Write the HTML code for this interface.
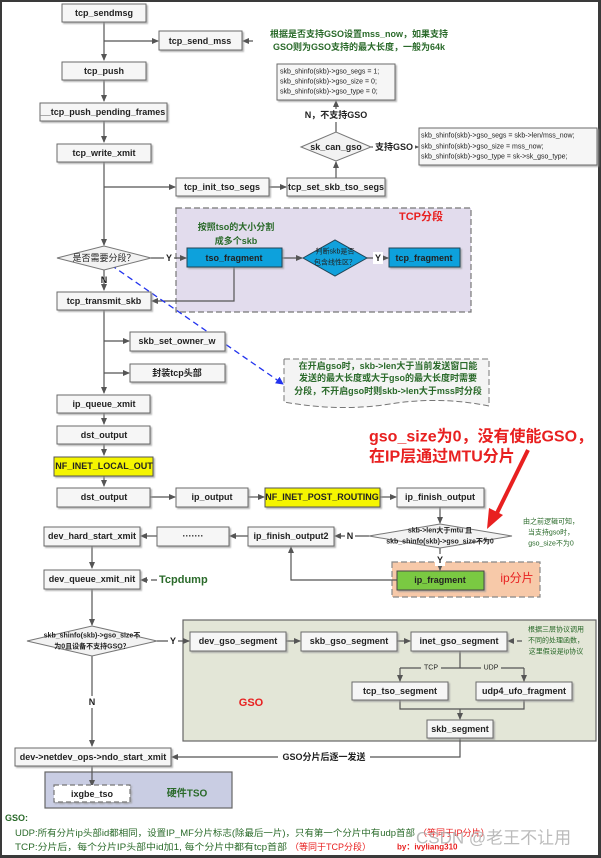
<!DOCTYPE html>
<html><head><meta charset="utf-8"><style>
html,body{margin:0;padding:0;background:#3a3a3a;}
svg{display:block;}
text{font-family:"Liberation Sans","Noto Sans CJK SC",sans-serif;}
.b{fill:#f6f6f6;stroke:#6b6b6b;stroke-width:1;}
.t{font-size:9px;font-weight:bold;fill:#222;text-anchor:middle;dominant-baseline:central;}
.s{font-size:7px;fill:#222;dominant-baseline:central;}
.g{font-size:9px;fill:#2a6a2a;font-weight:bold;dominant-baseline:central;}
.l{stroke:#555;stroke-width:1.2;fill:none;}
.lbl{font-size:9px;font-weight:bold;fill:#222;text-anchor:middle;dominant-baseline:central;}
</style></head><body>
<svg width="601" height="858" viewBox="0 0 601 858" xmlns="http://www.w3.org/2000/svg">
<defs>
<marker id="a" markerWidth="7" markerHeight="7" refX="6" refY="3.5" orient="auto" markerUnits="userSpaceOnUse"><path d="M0,0.5 L7,3.5 L0,6.5z" fill="#555"/></marker>
<marker id="ab" markerWidth="8" markerHeight="8" refX="7" refY="4" orient="auto" markerUnits="userSpaceOnUse"><path d="M0,0 L8,4 L0,8z" fill="#2233ee"/></marker>
<filter id="sh" x="-10%" y="-10%" width="130%" height="150%"><feDropShadow dx="1.5" dy="1.5" stdDeviation="0.8" flood-color="#999" flood-opacity="0.7"/></filter>
</defs>
<rect x="2" y="2" width="596" height="853" fill="#fff"/>

<rect x="176" y="208" width="295" height="104" fill="#e2dced" stroke="#777" stroke-dasharray="6,3" stroke-width="1.2"/>
<text x="421" y="217" font-size="11" font-weight="bold" fill="#e82020" text-anchor="middle" dominant-baseline="central">TCP分段</text>
<rect x="392" y="562" width="148" height="35" fill="#f7c9a9" stroke="#888" stroke-dasharray="6,3" stroke-width="1.2"/>
<text x="517" y="578" font-size="12" fill="#e82020" text-anchor="middle" dominant-baseline="central">ip分片</text>
<rect x="183" y="620" width="413" height="121" fill="#e3e6d7" stroke="#666" stroke-width="1.2"/>
<text x="251" y="703" font-size="11" font-weight="bold" fill="#e82020" text-anchor="middle" dominant-baseline="central">GSO</text>
<rect x="45" y="772" width="187" height="36" fill="#c9cde3" stroke="#666" stroke-width="1.2"/>
<text x="187" y="794" font-size="10" font-weight="bold" fill="#2a6a2a" text-anchor="middle" dominant-baseline="central">硬件TSO</text>

<path class="l" d="M104,22 V60" marker-end="url(#a)"/>
<path class="l" d="M104,41 H158" marker-end="url(#a)"/>
<path class="l" d="M104,80 V101" marker-end="url(#a)"/>
<path class="l" d="M104,121 V142" marker-end="url(#a)"/>
<path class="l" d="M104,162 V245" marker-end="url(#a)"/>
<path class="l" d="M104,187 H175" marker-end="url(#a)"/>
<path class="l" d="M269,187 H286" marker-end="url(#a)"/>
<path class="l" d="M336,178 V162" marker-end="url(#a)"/>
<path class="l" d="M336,132 V101" marker-end="url(#a)"/>
<path class="l" d="M371,147 H418" marker-end="url(#a)"/>
<path class="l" d="M151,258 H186" marker-end="url(#a)"/>
<path class="l" d="M282,258 H302" marker-end="url(#a)"/>
<path class="l" d="M367,258 H388" marker-end="url(#a)"/>
<path class="l" d="M104,270 V290" marker-end="url(#a)"/>
<path class="l" d="M234,267 V301 H152" marker-end="url(#a)"/>
<path class="l" d="M104,310 V393" marker-end="url(#a)"/>
<path class="l" d="M104,341 H129" marker-end="url(#a)"/>
<path class="l" d="M104,373 H129" marker-end="url(#a)"/>
<path class="l" d="M104,413 V424" marker-end="url(#a)"/>
<path class="l" d="M104,444 V455" marker-end="url(#a)"/>
<path class="l" d="M104,476 V486" marker-end="url(#a)"/>
<path class="l" d="M150,497 H175" marker-end="url(#a)"/>
<path class="l" d="M248,497 H264" marker-end="url(#a)"/>
<path class="l" d="M380,497 H396" marker-end="url(#a)"/>
<path class="l" d="M440,507 V523" marker-end="url(#a)"/>
<path class="l" d="M369,536 H335" marker-end="url(#a)"/>
<path class="l" d="M248,536 H230" marker-end="url(#a)"/>
<path class="l" d="M157,536 H141" marker-end="url(#a)"/>
<path class="l" d="M440,548 V570" marker-end="url(#a)"/>
<path class="l" d="M397,580 H291 V547" marker-end="url(#a)"/>
<path class="l" d="M92,546 V568" marker-end="url(#a)"/>
<path class="l" d="M157,580 H141" marker-end="url(#a)" stroke-dasharray="6,3"/>
<path class="l" d="M92,589 V625" marker-end="url(#a)"/>
<path class="l" d="M92,656 V746" marker-end="url(#a)"/>
<path class="l" d="M157,641 H189" marker-end="url(#a)"/>
<path class="l" d="M286,641 H300" marker-end="url(#a)"/>
<path class="l" d="M397,641 H410" marker-end="url(#a)"/>
<path class="l" d="M522,641 H508" marker-end="url(#a)" stroke-dasharray="5,3"/>
<path class="l" d="M460,651 V668 M400,668 H524"/>
<path class="l" d="M400,668 V681" marker-end="url(#a)"/>
<path class="l" d="M524,668 V681" marker-end="url(#a)"/>
<path class="l" d="M400,700 V709 H524 V700 M460,709 V719" marker-end="url(#a)"/>
<path class="l" d="M460,738 V757 H172" marker-end="url(#a)"/>
<path class="l" d="M92,766 V786" marker-end="url(#a)"/>
<path class="l" d="M253,41 H243" marker-end="url(#a)" stroke-dasharray="5,3"/>
<path d="M111,265 L283,384" stroke="#2233ee" stroke-width="1.3" stroke-dasharray="6,4" fill="none" marker-end="url(#ab)"/>

<rect x="164" y="252" width="10" height="12" fill="#fff"/><text class="lbl" x="169" y="258">Y</text>
<text class="lbl" x="104" y="280">N</text>
<rect x="373" y="252" width="10" height="12" fill="#fff"/><text class="lbl" x="378" y="258">Y</text>
<rect x="300" y="109" width="72" height="13" fill="#fff"/><text class="lbl" x="336" y="115">N，不支持GSO</text>
<rect x="373" y="140" width="42" height="14" fill="#fff"/><text class="lbl" x="394" y="147" font-weight="normal">支持GSO</text>
<rect x="345" y="530" width="10" height="12" fill="#fff"/><text class="lbl" x="350" y="536">N</text>
<rect x="435" y="554" width="10" height="12" fill="#fff"/><text class="lbl" x="440" y="560">Y</text>
<rect x="168" y="635" width="10" height="12" fill="#fff"/><text class="lbl" x="173" y="641">Y</text>
<rect x="87" y="696" width="10" height="12" fill="#fff"/><text class="lbl" x="92" y="702">N</text>
<rect x="421" y="663" width="20" height="10" fill="#e3e6d7"/><text x="431" y="668" font-size="7" fill="#222" text-anchor="middle" dominant-baseline="central">TCP</text>
<rect x="481" y="663" width="20" height="10" fill="#e3e6d7"/><text x="491" y="668" font-size="7" fill="#222" text-anchor="middle" dominant-baseline="central">UDP</text>
<rect x="278" y="750" width="92" height="14" fill="#fff"/><text class="lbl" x="324" y="757" font-weight="normal">GSO分片后逐一发送</text>
<text x="159" y="580" font-size="11" fill="#2a6a2a" dominant-baseline="central" font-weight="bold">Tcpdump</text>

<g filter="url(#sh)">
<rect class="b" x="62" y="4" width="84" height="18"/>
<rect class="b" x="159" y="31" width="83" height="19"/>
<rect class="b" x="62" y="62" width="84" height="18"/>
<rect class="b" x="40" y="103" width="127" height="18"/>
<rect class="b" x="57" y="144" width="94" height="18"/>
<rect class="b" x="277" y="64" width="118" height="36"/>
<rect class="b" x="419" y="128" width="178" height="37"/>
<rect class="b" x="176" y="178" width="93" height="18"/>
<rect class="b" x="287" y="178" width="98" height="18"/>
<rect x="187" y="248" width="95" height="19" fill="#11a1dc" stroke="#245" />
<rect x="389" y="248" width="71" height="19" fill="#11a1dc" stroke="#245"/>
<rect class="b" x="57" y="292" width="94" height="18"/>
<rect class="b" x="130" y="332" width="95" height="19"/>
<rect class="b" x="130" y="364" width="95" height="18"/>
<rect class="b" x="57" y="395" width="93" height="18"/>
<rect class="b" x="57" y="426" width="93" height="18"/>
<rect x="54" y="457" width="99" height="19" fill="#f5f500" stroke="#555"/>
<rect class="b" x="57" y="488" width="93" height="19"/>
<rect class="b" x="176" y="488" width="72" height="19"/>
<rect x="265" y="488" width="115" height="19" fill="#f5f500" stroke="#555"/>
<rect class="b" x="397" y="488" width="87" height="19"/>
<rect class="b" x="248" y="527" width="86" height="19"/>
<rect class="b" x="157" y="527" width="72" height="19"/>
<rect class="b" x="44" y="527" width="96" height="19"/>
<rect x="397" y="571" width="87" height="19" fill="#7ac943" stroke="#444"/>
<rect class="b" x="44" y="570" width="96" height="19"/>
<rect class="b" x="190" y="632" width="96" height="19"/>
<rect class="b" x="301" y="632" width="96" height="19"/>
<rect class="b" x="411" y="632" width="96" height="19"/>
<rect class="b" x="352" y="682" width="96" height="18"/>
<rect class="b" x="476" y="682" width="96" height="18"/>
<rect class="b" x="427" y="720" width="66" height="18"/>
<rect class="b" x="15" y="748" width="156" height="18"/>
<rect x="54" y="785" width="76" height="17" fill="#fff" stroke="#777" stroke-dasharray="5,3" stroke-width="1.2"/>
</g>
<polygon points="57,258 104,246 151,258 104,270" fill="#f2f2f2" stroke="#777"/>
<polygon points="301,147 336,132 371,147 336,161" fill="#f2f2f2" stroke="#777"/>
<polygon points="303,258 335,240 367,258 335,276" fill="#11a1dc" stroke="#245"/>
<polygon points="369,536 440,524 512,536 440,548" fill="#f2f2f2" stroke="#777"/>
<polygon points="27,641 92,626 157,641 92,656" fill="#f2f2f2" stroke="#777"/>

<text class="t" x="104" y="13">tcp_sendmsg</text>
<text class="t" x="200" y="41">tcp_send_mss</text>
<text class="t" x="104" y="71">tcp_push</text>
<text class="t" x="103" y="112">__tcp_push_pending_frames</text>
<text class="t" x="104" y="153">tcp_write_xmit</text>
<text class="s" x="280" y="72">skb_shinfo(skb)-&gt;gso_segs = 1;</text>
<text class="s" x="280" y="82">skb_shinfo(skb)-&gt;gso_size = 0;</text>
<text class="s" x="280" y="92">skb_shinfo(skb)-&gt;gso_type = 0;</text>
<text class="s" x="421" y="136">skb_shinfo(skb)-&gt;gso_segs = skb-&gt;len/mss_now;</text>
<text class="s" x="421" y="147">skb_shinfo(skb)-&gt;gso_size = mss_now;</text>
<text class="s" x="421" y="157">skb_shinfo(skb)-&gt;gso_type = sk-&gt;sk_gso_type;</text>
<text class="t" x="336" y="147" font-weight="normal">sk_can_gso</text>
<text class="t" x="222" y="187">tcp_init_tso_segs</text>
<text class="t" x="336" y="187">tcp_set_skb_tso_segs</text>
<text class="t" x="234" y="258" fill="#111">tso_fragment</text>
<text class="t" x="424" y="258" fill="#111">tcp_fragment</text>
<text x="335" y="252" font-size="7" fill="#222" text-anchor="middle" dominant-baseline="central">判断skb是否</text>
<text x="335" y="263" font-size="7" fill="#222" text-anchor="middle" dominant-baseline="central">包含线性区？</text>
<text x="104" y="258" font-size="9" fill="#222" text-anchor="middle" dominant-baseline="central">是否需要分段？</text>
<text class="g" x="236" y="227" text-anchor="middle">按照tso的大小分割</text>
<text class="g" x="236" y="241" text-anchor="middle">成多个skb</text>
<text class="t" x="104" y="301">tcp_transmit_skb</text>
<text class="t" x="177" y="341">skb_set_owner_w</text>
<text class="t" x="177" y="373" font-weight="normal">封装tcp头部</text>
<text class="t" x="104" y="404">ip_queue_xmit</text>
<text class="t" x="104" y="435">dst_output</text>
<text class="t" x="104" y="466">NF_INET_LOCAL_OUT</text>
<text class="t" x="104" y="497">dst_output</text>
<text class="t" x="212" y="497">ip_output</text>
<text class="t" x="322" y="497">NF_INET_POST_ROUTING</text>
<text class="t" x="440" y="497">ip_finish_output</text>
<text x="440" y="531" font-size="7" fill="#222" text-anchor="middle" dominant-baseline="central" font-weight="bold">skb-&gt;len大于mtu 且</text>
<text x="440" y="542" font-size="7" fill="#222" text-anchor="middle" dominant-baseline="central" font-weight="bold">skb_shinfo(skb)-&gt;gso_size不为0</text>
<text class="t" x="291" y="536">ip_finish_output2</text>
<text class="t" x="193" y="536">·······</text>
<text class="t" x="92" y="536">dev_hard_start_xmit</text>
<text class="t" x="440" y="580">ip_fragment</text>
<text class="t" x="92" y="579">dev_queue_xmit_nit</text>
<text x="92" y="636" font-size="7" fill="#222" text-anchor="middle" dominant-baseline="central" font-weight="bold">skb_shinfo(skb)-&gt;gso_size不</text>
<text x="92" y="647" font-size="7" fill="#222" text-anchor="middle" dominant-baseline="central" font-weight="bold">为0且设备不支持GSO？</text>
<text class="t" x="238" y="641">dev_gso_segment</text>
<text class="t" x="349" y="641">skb_gso_segment</text>
<text class="t" x="459" y="641">inet_gso_segment</text>
<text class="t" x="400" y="691">tcp_tso_segment</text>
<text class="t" x="524" y="691">udp4_ufo_fragment</text>
<text class="t" x="460" y="729">skb_segment</text>
<text class="t" x="93" y="757">dev-&gt;netdev_ops-&gt;ndo_start_xmit</text>
<text class="t" x="92" y="794" font-weight="normal">ixgbe_tso</text>

<text class="g" x="359" y="34" text-anchor="middle">根据是否支持GSO设置mss_now，如果支持</text>
<text class="g" x="359" y="47" text-anchor="middle">GSO则为GSO支持的最大长度，一般为64k</text>
<path d="M284,359 H489 V406 Q440,396 390,404 T284,402 Z" fill="#f4f4f4" stroke="#777" stroke-dasharray="6,3"/>
<text class="g" x="388" y="366" text-anchor="middle" font-weight="normal">在开启gso时，skb-&gt;len大于当前发送窗口能</text>
<text class="g" x="388" y="378" text-anchor="middle" font-weight="normal">发送的最大长度或大于gso的最大长度时需要</text>
<text class="g" x="388" y="391" text-anchor="middle" font-weight="normal">分段，不开启gso时则skb-&gt;len大于mss时分段</text>
<text x="369" y="437" font-size="16" font-weight="bold" fill="#e82020" dominant-baseline="central">gso_size为0，没有使能GSO，</text>
<text x="369" y="457" font-size="16" font-weight="bold" fill="#e82020" dominant-baseline="central">在IP层通过MTU分片</text>
<path d="M528,450 L496,515" stroke="#e82020" stroke-width="4" fill="none"/>
<polygon points="487,529 489,508 503,515" fill="#e82020"/>
<text x="551" y="522" font-size="7" fill="#2a6a2a" text-anchor="middle" dominant-baseline="central">由之前逻辑可知，</text>
<text x="551" y="533" font-size="7" fill="#2a6a2a" text-anchor="middle" dominant-baseline="central">当支持gso时，</text>
<text x="551" y="544" font-size="7" fill="#2a6a2a" text-anchor="middle" dominant-baseline="central">gso_size不为0</text>
<text x="556" y="630" font-size="7" fill="#2a6a2a" text-anchor="middle" dominant-baseline="central">根据三层协议调用</text>
<text x="556" y="641" font-size="7" fill="#2a6a2a" text-anchor="middle" dominant-baseline="central">不同的处理函数，</text>
<text x="556" y="652" font-size="7" fill="#2a6a2a" text-anchor="middle" dominant-baseline="central">这里假设是ip协议</text>

<text x="5" y="818" font-size="9" font-weight="bold" fill="#2a6a2a" dominant-baseline="central">GSO:</text>
<text x="15" y="833" font-size="9" fill="#2a6a2a" dominant-baseline="central" textLength="400" lengthAdjust="spacingAndGlyphs">UDP:所有分片ip头部id都相同，设置IP_MF分片标志(除最后一片)，只有第一个分片中有udp首部</text>
<text x="418" y="833" font-size="9" fill="#e82020" dominant-baseline="central">（等同于IP分片）</text>
<text x="15" y="847" font-size="9" fill="#2a6a2a" dominant-baseline="central" textLength="272" lengthAdjust="spacingAndGlyphs">TCP:分片后，每个分片IP头部中id加1, 每个分片中都有tcp首部</text>
<text x="290" y="847" font-size="9" fill="#e82020" dominant-baseline="central">（等同于TCP分段）</text>
<text x="397" y="847" font-size="8" font-weight="bold" fill="#e82020" dominant-baseline="central">by：ivyliang310</text>
<text x="416" y="838" font-size="17" fill="#aaa" fill-opacity="0.8" dominant-baseline="central">CSDN @老王不让用</text>
</svg>
</body></html>
